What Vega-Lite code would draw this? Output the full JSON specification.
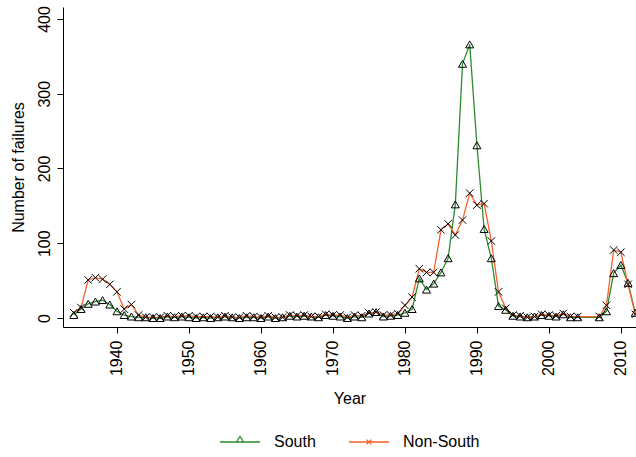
{
  "$schema": "https://vega.github.io/schema/vega-lite/v6.json",
  "width": 573,
  "height": 320,
  "autosize": {"type": "none"},
  "padding": {"left": 63, "top": 7, "right": 0, "bottom": 130},
  "background": "white",
  "config": {
    "view": {"stroke": null},
    "font": "Liberation Sans",
    "axis": {
      "grid": false,
      "domainColor": "black",
      "domainWidth": 1,
      "tickColor": "black",
      "tickSize": 6,
      "labelColor": "black",
      "titleColor": "black",
      "labelFont": "Liberation Sans",
      "titleFont": "Liberation Sans",
      "labelFontSize": 16,
      "titleFontSize": 16,
      "titleFontWeight": "normal"
    }
  },
  "datasets": {
    "failures": [
      {"year":1934,"region":"South","n":4},{"year":1935,"region":"South","n":12},{"year":1936,"region":"South","n":19},{"year":1937,"region":"South","n":22},{"year":1938,"region":"South","n":24},{"year":1939,"region":"South","n":18},{"year":1940,"region":"South","n":9},{"year":1941,"region":"South","n":4},{"year":1942,"region":"South","n":2},{"year":1943,"region":"South","n":1},{"year":1944,"region":"South","n":1},{"year":1945,"region":"South","n":0},{"year":1946,"region":"South","n":0},{"year":1947,"region":"South","n":2},{"year":1948,"region":"South","n":1},{"year":1949,"region":"South","n":2},{"year":1950,"region":"South","n":1},{"year":1951,"region":"South","n":0},{"year":1952,"region":"South","n":1},{"year":1953,"region":"South","n":0},{"year":1954,"region":"South","n":1},{"year":1955,"region":"South","n":2},{"year":1956,"region":"South","n":1},{"year":1957,"region":"South","n":0},{"year":1958,"region":"South","n":1},{"year":1959,"region":"South","n":1},{"year":1960,"region":"South","n":0},{"year":1961,"region":"South","n":2},{"year":1962,"region":"South","n":0},{"year":1963,"region":"South","n":1},{"year":1964,"region":"South","n":3},{"year":1965,"region":"South","n":2},{"year":1966,"region":"South","n":3},{"year":1967,"region":"South","n":2},{"year":1968,"region":"South","n":1},{"year":1969,"region":"South","n":4},{"year":1970,"region":"South","n":3},{"year":1971,"region":"South","n":2},{"year":1972,"region":"South","n":0},{"year":1973,"region":"South","n":2},{"year":1974,"region":"South","n":1},{"year":1975,"region":"South","n":6},{"year":1976,"region":"South","n":8},{"year":1977,"region":"South","n":2},{"year":1978,"region":"South","n":3},{"year":1979,"region":"South","n":4},{"year":1980,"region":"South","n":7},{"year":1981,"region":"South","n":12},{"year":1982,"region":"South","n":53},{"year":1983,"region":"South","n":38},{"year":1984,"region":"South","n":46},{"year":1985,"region":"South","n":61},{"year":1986,"region":"South","n":80},{"year":1987,"region":"South","n":152},{"year":1988,"region":"South","n":340},{"year":1989,"region":"South","n":366},{"year":1990,"region":"South","n":231},{"year":1991,"region":"South","n":119},{"year":1992,"region":"South","n":80},{"year":1993,"region":"South","n":16},{"year":1994,"region":"South","n":11},{"year":1995,"region":"South","n":3},{"year":1996,"region":"South","n":2},{"year":1997,"region":"South","n":1},{"year":1998,"region":"South","n":2},{"year":1999,"region":"South","n":4},{"year":2000,"region":"South","n":3},{"year":2001,"region":"South","n":2},{"year":2002,"region":"South","n":5},{"year":2003,"region":"South","n":1},{"year":2004,"region":"South","n":1},{"year":2007,"region":"South","n":1},{"year":2008,"region":"South","n":9},{"year":2009,"region":"South","n":60},{"year":2010,"region":"South","n":71},{"year":2011,"region":"South","n":47},{"year":2012,"region":"South","n":7},
      {"year":1934,"region":"Non-South","n":7},{"year":1935,"region":"Non-South","n":14},{"year":1936,"region":"Non-South","n":51},{"year":1937,"region":"Non-South","n":54},{"year":1938,"region":"Non-South","n":52},{"year":1939,"region":"Non-South","n":45},{"year":1940,"region":"Non-South","n":35},{"year":1941,"region":"Non-South","n":12},{"year":1942,"region":"Non-South","n":18},{"year":1943,"region":"Non-South","n":4},{"year":1944,"region":"Non-South","n":1},{"year":1945,"region":"Non-South","n":1},{"year":1946,"region":"Non-South","n":1},{"year":1947,"region":"Non-South","n":3},{"year":1948,"region":"Non-South","n":2},{"year":1949,"region":"Non-South","n":3},{"year":1950,"region":"Non-South","n":3},{"year":1951,"region":"Non-South","n":2},{"year":1952,"region":"Non-South","n":2},{"year":1953,"region":"Non-South","n":2},{"year":1954,"region":"Non-South","n":1},{"year":1955,"region":"Non-South","n":3},{"year":1956,"region":"Non-South","n":1},{"year":1957,"region":"Non-South","n":1},{"year":1958,"region":"Non-South","n":3},{"year":1959,"region":"Non-South","n":2},{"year":1960,"region":"Non-South","n":1},{"year":1961,"region":"Non-South","n":3},{"year":1962,"region":"Non-South","n":1},{"year":1963,"region":"Non-South","n":1},{"year":1964,"region":"Non-South","n":4},{"year":1965,"region":"Non-South","n":3},{"year":1966,"region":"Non-South","n":4},{"year":1967,"region":"Non-South","n":2},{"year":1968,"region":"Non-South","n":2},{"year":1969,"region":"Non-South","n":5},{"year":1970,"region":"Non-South","n":4},{"year":1971,"region":"Non-South","n":4},{"year":1972,"region":"Non-South","n":1},{"year":1973,"region":"Non-South","n":4},{"year":1974,"region":"Non-South","n":3},{"year":1975,"region":"Non-South","n":7},{"year":1976,"region":"Non-South","n":8},{"year":1977,"region":"Non-South","n":4},{"year":1978,"region":"Non-South","n":4},{"year":1979,"region":"Non-South","n":6},{"year":1980,"region":"Non-South","n":17},{"year":1981,"region":"Non-South","n":28},{"year":1982,"region":"Non-South","n":66},{"year":1983,"region":"Non-South","n":61},{"year":1984,"region":"Non-South","n":61},{"year":1985,"region":"Non-South","n":118},{"year":1986,"region":"Non-South","n":126},{"year":1987,"region":"Non-South","n":111},{"year":1988,"region":"Non-South","n":131},{"year":1989,"region":"Non-South","n":167},{"year":1990,"region":"Non-South","n":151},{"year":1991,"region":"Non-South","n":153},{"year":1992,"region":"Non-South","n":103},{"year":1993,"region":"Non-South","n":35},{"year":1994,"region":"Non-South","n":13},{"year":1995,"region":"Non-South","n":4},{"year":1996,"region":"Non-South","n":3},{"year":1997,"region":"Non-South","n":1},{"year":1998,"region":"Non-South","n":2},{"year":1999,"region":"Non-South","n":5},{"year":2000,"region":"Non-South","n":4},{"year":2001,"region":"Non-South","n":3},{"year":2002,"region":"Non-South","n":6},{"year":2003,"region":"Non-South","n":2},{"year":2004,"region":"Non-South","n":2},{"year":2007,"region":"Non-South","n":2},{"year":2008,"region":"Non-South","n":17},{"year":2009,"region":"Non-South","n":91},{"year":2010,"region":"Non-South","n":88},{"year":2011,"region":"Non-South","n":45},{"year":2012,"region":"Non-South","n":5}
    ]
  },
  "data": {"name": "failures"},
  "encoding": {
    "x": {
      "field": "year",
      "type": "quantitative",
      "scale": {"domain": [1932.5, 2012.1], "nice": false, "zero": false},
      "axis": {
        "values": [1940, 1950, 1960, 1970, 1980, 1990, 2000, 2010],
        "format": "d",
        "title": "Year",
        "labelAngle": -90,
        "labelAlign": "right",
        "labelBaseline": "middle",
        "labelPadding": 7,
        "titlePadding": 15
      }
    },
    "y": {
      "field": "n",
      "type": "quantitative",
      "scale": {"domain": [-12, 416], "nice": false, "zero": false},
      "axis": {
        "values": [0, 100, 200, 300, 400],
        "title": "Number of failures",
        "labelAngle": -90,
        "labelAlign": "center",
        "labelBaseline": "alphabetic",
        "labelPadding": 8,
        "titlePadding": 10
      }
    }
  },
  "layer": [
    {
      "mark": {"type": "line", "strokeWidth": 1.3},
      "encoding": {
        "color": {
          "field": "region",
          "type": "nominal",
          "scale": {"domain": ["South", "Non-South"], "range": ["#2e8b32", "#f8602a"]},
          "legend": {
            "orient": "none",
            "legendX": 156,
            "legendY": 414,
            "direction": "horizontal",
            "title": null,
            "padding": 0,
            "symbolSize": 1600,
            "symbolStrokeWidth": 1.3,
            "labelOffset": 13,
            "columnPadding": 30,
            "labelFontSize": 16,
            "labelFont": "Liberation Sans",
            "labelColor": "black",
            "encode": {
              "symbols": {
                "update": {
                  "shape": {"signal": "datum.value === 'South' ? 'M-1,0H1M-0.18,0L0,-0.28L0.18,0Z' : 'M-1,0H1M-0.12,-0.12L0.12,0.12M-0.12,0.12L0.12,-0.12'"},
                  "fill": {"value": "transparent"}
                }
              }
            }
          }
        }
      }
    },
    {
      "transform": [{"filter": "datum.region === 'South'"}],
      "mark": {"type": "point", "shape": "triangle-up", "filled": false, "stroke": "black", "strokeWidth": 1, "opacity": 1, "size": 64}
    },
    {
      "transform": [{"filter": "datum.region === 'Non-South'"}],
      "mark": {"type": "point", "shape": "M-1,-1L1,1M-1,1L1,-1", "filled": false, "stroke": "black", "strokeWidth": 1, "opacity": 1, "size": 56}
    }
  ]
}
